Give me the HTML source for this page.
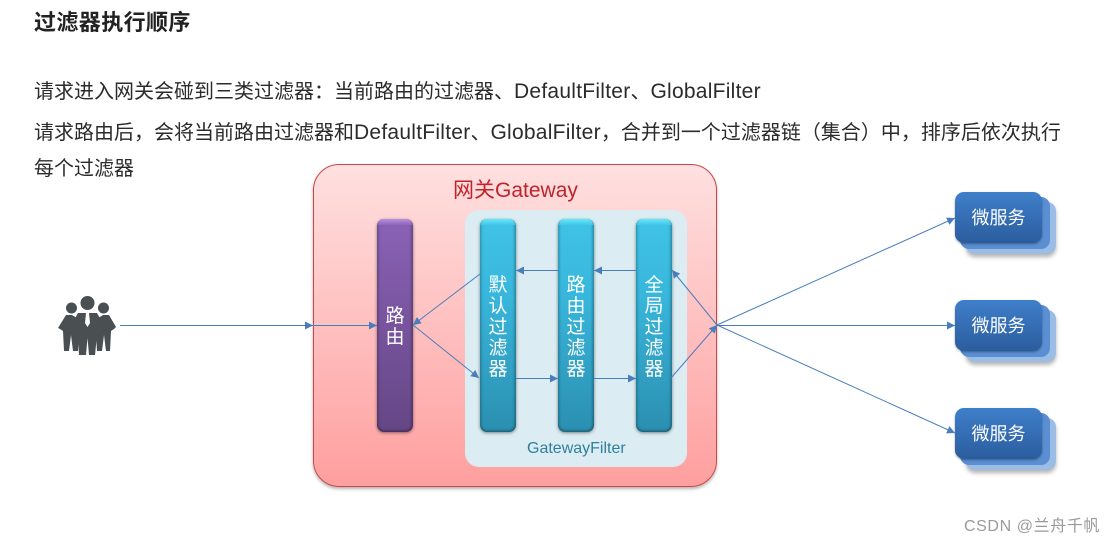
<!DOCTYPE html>
<html lang="zh-CN">
<head>
<meta charset="utf-8">
<style>
html,body{margin:0;padding:0;background:#fff;}
body{width:1116px;height:544px;overflow:hidden;position:relative;font-family:"Liberation Sans","Noto Sans CJK SC",sans-serif;}
.t{position:absolute;white-space:nowrap;color:#2b2b2b;font-size:20px;line-height:26px;}
.t span{font-size:21px;letter-spacing:.25px}
.gw{position:absolute;left:313px;top:164px;width:404px;height:323px;box-sizing:border-box;border:1px solid #c9474a;border-radius:26px;background:linear-gradient(#ffe0e0,#ff9f9f);box-shadow:0 2px 3px rgba(0,0,0,.3);}
.gf{position:absolute;left:465px;top:210px;width:222px;height:257px;border-radius:14px;background:#dbedf3;}
.bar{position:absolute;top:219px;width:36px;height:213px;border-radius:7px;box-sizing:border-box;box-shadow:0 1px 3px rgba(0,0,0,.45), inset 2px 0 2px rgba(0,0,0,.14), inset -2px 0 2px rgba(0,0,0,.2), inset 0 -2px 2px rgba(0,0,0,.2);color:#fff;font-size:19px;text-align:center;font-family:"Noto Sans CJK SC",sans-serif;}
.blue{background:linear-gradient(#3fc3e6 0%,#38b7dc 35%,#2b8fb0 100%);}
.blue:before,.pur:before{content:"";position:absolute;left:1px;right:1px;top:0;height:6px;border-radius:7px 7px 0 0;}
.blue:before{background:linear-gradient(#66e8fc,#42c6e8)}
.pur:before{background:linear-gradient(#b892e2,#8c64b8)}
.pur{background:linear-gradient(#8a62b6,#654685);}
.bar div{position:absolute;left:0;width:100%;line-height:21px;}
.svc{position:absolute;box-sizing:border-box;border-radius:9px;}
.s1{background:#9bbce5;box-shadow:0 3px 4px rgba(0,0,0,.3);}
.s2{background:#5b8fd3;}
.s3{background:linear-gradient(#3f7fca,#2b5d9e);color:#fff;font-size:18px;line-height:51px;text-align:center;box-shadow:0 1px 2px rgba(0,0,0,.35);font-family:"Noto Sans CJK SC",sans-serif;}
</style>
</head>
<body>
<div class="t" style="left:34px;top:9px;font-size:22px;font-weight:bold;color:#222;line-height:28px;letter-spacing:.4px;">过滤器执行顺序</div>
<div class="t" style="left:34px;top:79px;">请求进入网关会碰到三类过滤器：当前路由的过滤器、<span>DefaultFilter</span>、<span>GlobalFilter</span></div>
<div class="t" style="left:34px;top:120px;">请求路由后，会将当前路由过滤器和<span>DefaultFilter</span>、<span>GlobalFilter</span>，合并到一个过滤器链（集合）中，排序后依次执行</div>
<div class="t" style="left:34px;top:156px;">每个过滤器</div>

<div class="gw"></div>
<div class="t" style="left:453px;top:177px;font-size:21px;color:#c0232a;line-height:28px;">网关Gateway</div>
<div class="gf"></div>
<div class="t" style="left:527px;top:439px;font-size:16px;color:#2f7f9c;line-height:20px;">GatewayFilter</div>

<div class="bar pur" style="left:377px;"><div style="top:85px;">路<br>由</div></div>
<div class="bar blue" style="left:480px;"><div style="top:54px;">默<br>认<br>过<br>滤<br>器</div></div>
<div class="bar blue" style="left:558px;"><div style="top:54px;">路<br>由<br>过<br>滤<br>器</div></div>
<div class="bar blue" style="left:636px;"><div style="top:54px;">全<br>局<br>过<br>滤<br>器</div></div>

<div class="svc s1" style="left:966px;top:202px;width:90px;height:52px;"></div>
<div class="svc s2" style="left:960px;top:197px;width:90px;height:52px;"></div>
<div class="svc s3" style="left:955px;top:192px;width:87px;height:51px;">微服务</div>
<div class="svc s1" style="left:966px;top:310px;width:90px;height:52px;"></div>
<div class="svc s2" style="left:960px;top:305px;width:90px;height:52px;"></div>
<div class="svc s3" style="left:955px;top:300px;width:87px;height:51px;">微服务</div>
<div class="svc s1" style="left:966px;top:418px;width:90px;height:52px;"></div>
<div class="svc s2" style="left:960px;top:413px;width:90px;height:52px;"></div>
<div class="svc s3" style="left:955px;top:408px;width:87px;height:51px;">微服务</div>

<svg width="1116" height="544" style="position:absolute;left:0;top:0;">
<defs>
<marker id="a" markerUnits="userSpaceOnUse" markerWidth="9" markerHeight="9" refX="8" refY="4" orient="auto"><path d="M0 0L8 4L0 8Z" fill="#4a7ebb"/></marker>
</defs>
<g stroke="#4a7ebb" stroke-width="1" fill="none">
<path d="M120 325.500H313" marker-end="url(#a)"/>
<path d="M313 325.500H377" marker-end="url(#a)"/>
<path d="M480 274L413 325" marker-end="url(#a)"/>
<path d="M413 325L479 378" marker-end="url(#a)"/>
<path d="M558 270.500H516" marker-end="url(#a)"/>
<path d="M636 270.500H594" marker-end="url(#a)"/>
<path d="M516 378.500H558" marker-end="url(#a)"/>
<path d="M594 378.500H636" marker-end="url(#a)"/>
<path d="M671 378L717 325" marker-end="url(#a)"/>
<path d="M717 325L672 270" marker-end="url(#a)"/>
<path d="M717 325L955 218" marker-end="url(#a)"/>
<path d="M717 325.500H955" marker-end="url(#a)"/>
<path d="M717 325L955 433" marker-end="url(#a)"/>
</g>
<g fill="#4a5051">
<circle cx="71.500" cy="308" r="5.500"/>
<circle cx="103.500" cy="308" r="5.500"/>
<path d="M66 315L72 315L80 320L78 351H73L71 335L69 351H64L63 331L60 329L58 328Z"/>
<path d="M109 315L103 315L95 320L97 351H102L104 335L106 351H110L111 331L114 329L116 327Z"/>
<circle cx="87.500" cy="303" r="7"/>
<path d="M78 313H97L101 320L97 335L95 355H89L87.500 338L86 355H79L78 335L74 320Z"/>
</g>
<path d="M86 313H89L90 323L87.500 327L85 323Z" fill="#fff"/>
</svg>
<div class="t" style="left:964px;top:517px;font-size:16px;color:#9a9a9a;line-height:20px;letter-spacing:.6px;">CSDN @兰舟千帆</div>
</body>
</html>
